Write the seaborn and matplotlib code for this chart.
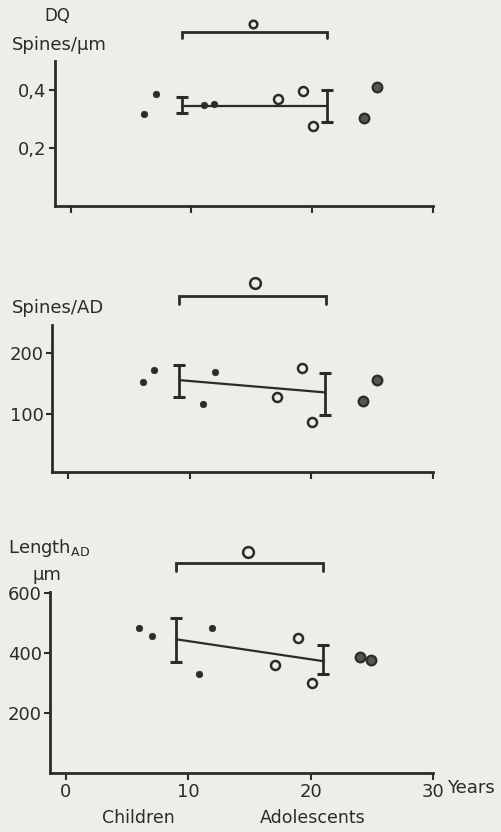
import numpy as np
import pandas as pd
import matplotlib
matplotlib.use("Agg")
import matplotlib.pyplot as plt
import seaborn as sns

# ---------------- data ----------------
groups = ["child", "child", "child", "child", "adol", "adol", "adol", "adult", "adult"]

ages_dq = [6.1, 7.05, 11.05, 11.9, 17.2, 19.25, 20.1, 24.25, 25.4]
dq_values = [0.317, 0.384, 0.348, 0.350, 0.366, 0.394, 0.274, 0.301, 0.41]

ages_spines = [6.15, 7.06, 11.07, 12.1, 17.2, 19.2, 20.1, 24.25, 25.4]
spines_values = [152, 172, 116, 169, 128, 175, 87, 121, 156]

ages_length = [6.0, 7.0, 10.9, 11.9, 17.1, 19.0, 20.1, 24.0, 24.9]
length_values = [484, 457, 330, 485, 362, 451, 302, 389, 378]

# group means (children, adolescents) with range bars
mean_age_dq = [9.2, 21.25]
mean_dq = [0.345, 0.345]
lo_dq = [0.318, 0.289]
hi_dq = [0.374, 0.400]

mean_age_spines = [9.17, 21.1]
mean_spines = [155, 135]
lo_spines = [127, 98]
hi_spines = [179, 166]

mean_age_length = [9.0, 21.0]
mean_length = [447, 374]
lo_length = [371, 330]
hi_length = [519, 427]

# significance brackets: x span, bar level, end level, circle position
bracket_dq = dict(x=[9.2, 21.25], y=0.597, end=0.577, mark=(15.1, 0.627))
bracket_spines = dict(x=[9.1, 21.2], y=293, end=279, mark=(15.4, 313))
bracket_length = dict(x=[9.0, 21.0], y=702, end=674, mark=(14.9, 739))

xticks = [0, 10, 20, 30]
xticklabels = ["0", "10", "20", "30"]
yticks_dq = [0.2, 0.4]
yticklabels_dq = ["0,2", "0,4"]
yticks_spines = [100, 200]
yticklabels_spines = ["100", "200"]
yticks_length = [200, 400, 600]
yticklabels_length = ["200", "400", "600"]

# ---------------- style ----------------
sns.set_style("ticks")
plt.rcParams["font.family"] = ["DejaVu Sans"]
INK = "#2b2b2b"
PAPER = "#eeede7"
W, H = 501, 832

fig = plt.figure(figsize=(W / 100, H / 100), dpi=100, facecolor=PAPER)


def px_axes(left, top, right, bottom):
    return fig.add_axes([left / W, 1 - bottom / H, (right - left) / W, (bottom - top) / H])


ax1 = px_axes(55, 60.5, 433, 206)
ax2 = px_axes(52, 325, 433, 472)
ax3 = px_axes(50, 592, 433, 773)

marker_style = {
    "child": dict(s=22, facecolor=INK, edgecolor=INK, linewidth=0.5),
    "adol": dict(s=42, facecolor=PAPER, edgecolor=INK, linewidth=1.8),
    "adult": dict(s=48, facecolor="#555555", edgecolor=INK, linewidth=1.6),
}


def draw_panel(ax, ages, vals, m_age, m_val, lo, hi, bracket, ylim, yticks, yticklabels,
               mark_size, show_xlabels):
    df = pd.DataFrame({"age": ages, "value": vals, "group": groups})
    for g, st in marker_style.items():
        sub = df[df["group"] == g]
        sns.scatterplot(data=sub, x="age", y="value", ax=ax, marker="o", zorder=3,
                        legend=False, **st)
    mdf = pd.DataFrame({"age": m_age, "value": m_val})
    sns.lineplot(data=mdf, x="age", y="value", ax=ax, color=INK, linewidth=1.6, zorder=2)
    m = np.array(m_val)
    yerr = np.vstack([m - np.array(lo), np.array(hi) - m])
    ax.errorbar(m_age, m_val, yerr=yerr, fmt="none", ecolor=INK, elinewidth=2.0,
                capsize=4, capthick=2.2, zorder=2)
    # bracket
    bx = bracket["x"]
    ax.plot([bx[0], bx[0], bx[1], bx[1]],
            [bracket["end"], bracket["y"], bracket["y"], bracket["end"]],
            color=INK, linewidth=2.0, clip_on=False, solid_joinstyle="miter")
    ax.scatter([bracket["mark"][0]], [bracket["mark"][1]], s=mark_size, facecolor=PAPER,
               edgecolor=INK, linewidth=1.8, clip_on=False, zorder=4)

    ax.set_xlim(-1.3, 30)
    ax.set_ylim(*ylim)
    ax.set_facecolor("none")
    ax.set_xlabel("")
    ax.set_ylabel("")
    sns.despine(ax=ax)
    for sp in ["left", "bottom"]:
        ax.spines[sp].set_linewidth(2.0)
        ax.spines[sp].set_color(INK)
    ax.set_xticks(xticks)
    if show_xlabels:
        ax.set_xticklabels(xticklabels)
    else:
        ax.set_xticklabels([])
    ax.set_yticks(yticks)
    ax.set_yticklabels(yticklabels)
    ax.tick_params(axis="x", direction="out", length=5, width=1.5, color=INK,
                   labelsize=13, labelcolor=INK, pad=2)
    ax.tick_params(axis="y", direction="out", length=4, width=1.5, color=INK,
                   labelsize=13, labelcolor=INK, pad=2)


draw_panel(ax1, ages_dq, dq_values, mean_age_dq, mean_dq, lo_dq, hi_dq, bracket_dq,
           (0, 0.5), yticks_dq, yticklabels_dq, 30, False)
draw_panel(ax2, ages_spines, spines_values, mean_age_spines, mean_spines, lo_spines,
           hi_spines, bracket_spines, (5, 245), yticks_spines, yticklabels_spines, 60, False)
draw_panel(ax3, ages_length, length_values, mean_age_length, mean_length, lo_length,
           hi_length, bracket_length, (0, 605), yticks_length, yticklabels_length, 60, True)


def ftext(x, y, s, **kw):
    fig.text(x / W, 1 - y / H, s, color=INK, va="center", **kw)


ftext(57, 16, "DQ", ha="center", fontsize=12)
ftext(12, 45, "Spines/µm", ha="left", fontsize=13)
ftext(12, 308, "Spines/AD", ha="left", fontsize=13)
ftext(8, 548, r"Length$_{\mathregular{AD}}$", ha="left", fontsize=13)
ftext(47, 575, "µm", ha="center", fontsize=13)
ftext(447, 788, "Years", ha="left", fontsize=13)
ftext(138, 818, "Children", ha="center", fontsize=12.5)
ftext(313, 818, "Adolescents", ha="center", fontsize=12.5)

fig.savefig("out.png", dpi=100, facecolor=PAPER)
